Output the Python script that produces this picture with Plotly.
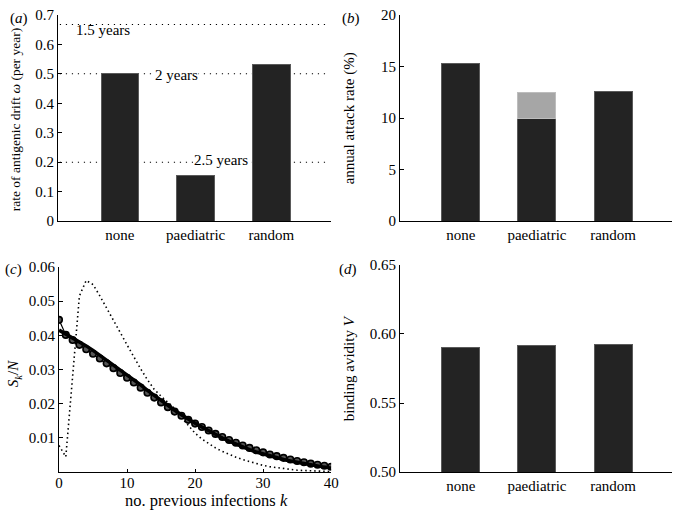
import plotly.graph_objects as go

W, H = 682, 519

# ---------------- data ----------------
categories = ["none", "paediatric", "random"]
cat_pos = [1, 2, 3]

drift_rate = [0.500, 0.155, 0.532]                 # panel (a)
drift_lines = [0.667, 0.5, 0.2]                    # dotted reference lines
drift_labels = ["1.5 years", "2 years", "2.5 years"]

attack_rate = [15.3, 10.0, 12.58]                  # panel (b) black
attack_extra_cat = ["paediatric"]
attack_extra = [2.5]                               # panel (b) grey on top

avidity = [0.5900, 0.5914, 0.5923]                 # panel (d)

k = list(range(41))                                # panel (c)
sk_model = [0.0415, 0.0404, 0.0393, 0.0381, 0.0369, 0.0356, 0.0342, 0.0328, 0.0314, 0.0300,
            0.0285, 0.0270, 0.0255, 0.0239, 0.0224, 0.0209, 0.0195, 0.0181, 0.0168, 0.0155,
            0.0143, 0.0132, 0.0121, 0.0110, 0.0100, 0.0091, 0.0082, 0.0074, 0.0066, 0.0059,
            0.0053, 0.0047, 0.0042, 0.0037, 0.0033, 0.0029, 0.0025, 0.0022, 0.0018, 0.0015,
            0.0012]
sk_sim = [0.0445, 0.0401, 0.0386, 0.0372, 0.0359, 0.0346, 0.0332, 0.0318, 0.0304, 0.0290,
          0.0276, 0.0262, 0.0247, 0.0232, 0.0218, 0.0204, 0.0190, 0.0177, 0.0165, 0.0153,
          0.0142, 0.0132, 0.0122, 0.0112, 0.0103, 0.0094, 0.0086, 0.0078, 0.0071, 0.0064,
          0.0058, 0.0052, 0.0047, 0.0042, 0.0037, 0.0033, 0.0029, 0.0025, 0.0022, 0.0019,
          0.0016]
sk_dotted = [0.0078, 0.0045, 0.0280, 0.0515, 0.0560, 0.0548, 0.0515, 0.0478, 0.0443, 0.0408,
             0.0372, 0.0336, 0.0302, 0.0270, 0.0242, 0.0222, 0.0204, 0.0186, 0.0160, 0.0136,
             0.0114, 0.0097, 0.0083, 0.0071, 0.0061, 0.0052, 0.0044, 0.0037, 0.0031, 0.0025,
             0.0020, 0.0016, 0.0013, 0.0010, 0.0008, 0.0006, 0.0005, 0.0004, 0.0003, 0.0003,
             0.0002]

# ---------------- style ----------------
FONT = "Liberation Serif"
FS_TICK = 15
FS_CAT = 15
BAR = "#232323"
BAR_EDGE = "#5a5a5a"
GREY = "#a6a6a6"


def px_x(p):
    return p / W


def px_y(p):
    return 1 - p / H


fig = go.Figure()

# (a)
fig.add_trace(go.Bar(x=cat_pos, y=drift_rate, width=0.5, marker=dict(color=BAR, line=dict(color=BAR_EDGE, width=1)),
                     xaxis="x", yaxis="y", showlegend=False))
# (b)
fig.add_trace(go.Bar(x=cat_pos, y=attack_rate, width=0.5, marker=dict(color=BAR, line=dict(color=BAR_EDGE, width=1)),
                     xaxis="x2", yaxis="y2", showlegend=False))
fig.add_trace(go.Bar(x=[cat_pos[categories.index(c)] for c in attack_extra_cat], y=attack_extra, width=0.5,
                     marker=dict(color=GREY, line=dict(color="#bdbdbd", width=1)),
                     xaxis="x2", yaxis="y2", showlegend=False))
# (c)
fig.add_trace(go.Scatter(x=k, y=sk_dotted, mode="lines", line=dict(color="black", width=1.6, dash="1.5px,3px"),
                         xaxis="x3", yaxis="y3", showlegend=False))
fig.add_trace(go.Scatter(x=k, y=sk_sim, mode="lines+markers", line=dict(color="black", width=1.2),
                         marker=dict(symbol="circle", size=6.5, color="#555555", line=dict(color="black", width=1.6)),
                         xaxis="x3", yaxis="y3", showlegend=False))
fig.add_trace(go.Scatter(x=k, y=sk_model, mode="lines", line=dict(color="black", width=3.5),
                         xaxis="x3", yaxis="y3", showlegend=False))
# (d)
fig.add_trace(go.Bar(x=cat_pos, y=avidity, width=0.5,
                     marker=dict(color=BAR, line=dict(color=BAR_EDGE, width=1)),
                     xaxis="x4", yaxis="y4", showlegend=False))

axis_common = dict(showline=True, linecolor="black", linewidth=1, showgrid=False, zeroline=False,
                   tickfont=dict(family=FONT, size=FS_TICK, color="black"), mirror=False)

cat_axis = dict(axis_common, tickmode="array", tickvals=cat_pos, ticktext=categories, ticks="",
                tickfont=dict(family=FONT, size=FS_CAT, color="black"))

fig.update_layout(
    width=W, height=H,
    margin=dict(l=0, r=0, t=0, b=0),
    paper_bgcolor="white", plot_bgcolor="white",
    barmode="stack",
    font=dict(family=FONT, size=FS_TICK, color="black"),
    xaxis=dict(cat_axis, domain=[px_x(55), px_x(333)], range=[0.182, 3.79], anchor="y"),
    yaxis=dict(axis_common, domain=[px_y(220), px_y(7)], range=[0, 0.7], tickvals=[0, 0.1, 0.2, 0.3, 0.4, 0.5, 0.6, 0.7],
               ticktext=["0", "0.1", "0.2", "0.3", "0.4", "0.5", "0.6", "0.7"],
               ticks="inside", ticklen=4, tickcolor="black", anchor="x"),
    xaxis2=dict(cat_axis, domain=[px_x(403), px_x(680)], range=[0.2, 3.774], anchor="y2"),
    yaxis2=dict(axis_common, domain=[px_y(220), px_y(7)], range=[0, 20], tickvals=[0, 5, 10, 15, 20],
                ticks="inside", ticklen=4, tickcolor="black", anchor="x2"),
    xaxis3=dict(axis_common, domain=[px_x(56), px_x(333)], range=[0, 40], tickvals=[0, 10, 20, 30, 40],
                ticks="inside", ticklen=3, tickcolor="black", anchor="y3", ticklabelstandoff=-3),
    yaxis3=dict(axis_common, domain=[px_y(479), px_y(267)], range=[0, 0.06],
                tickvals=[0.01, 0.02, 0.03, 0.04, 0.05, 0.06],
                ticktext=["0.01", "0.02", "0.03", "0.04", "0.05", "0.06"],
                ticks="inside", ticklen=4, tickcolor="black", anchor="x3"),
    xaxis4=dict(cat_axis, domain=[px_x(403), px_x(680)], range=[0.2, 3.774], anchor="y4"),
    yaxis4=dict(axis_common, domain=[px_y(479), px_y(265)], range=[0.5, 0.65],
                tickvals=[0.50, 0.55, 0.60, 0.65], ticktext=["0.50", "0.55", "0.60", "0.65"],
                ticks="inside", ticklen=4, tickcolor="black", anchor="x4"),
)

# dotted reference lines in (a)
for v in drift_lines:
    fig.add_shape(type="line", xref="x", yref="y", x0=0.206, x1=3.712, y0=v, y1=v, layer="below",
                  line=dict(color="black", width=1.2, dash="1.2px,4.8px"))

label_x = [0.40, 1.45, 1.97]
label_shift = [-5, -1, 2]
label_bg = ["rgba(0,0,0,0)", "white", "white"]
for txt, v, lx, sh, bg in zip(drift_labels, drift_lines, label_x, label_shift, label_bg):
    fig.add_annotation(x=lx, y=v, xref="x", yref="y", text=txt, showarrow=False, xanchor="left", yanchor="middle",
                       yshift=sh, font=dict(family=FONT, size=FS_CAT, color="black"),
                       bgcolor=bg, borderpad=0)

# axis titles as annotations
titles = [
    ("rate of antigenic drift <i>ω</i> (per year)", 12, 115, -90, 13.5),
    ("annual attack rate (%)", 352, 114, -90, FS_CAT),
    ("<i>S<sub>k</sub></i>/<i>N</i>", 11, 377, -90, FS_CAT),
    ("binding avidity <i>V</i>", 351, 372, -90, FS_CAT),
    ("no. previous infections <i>k</i>", 206, 508, 0, 16.5),
]
for txt, x, y, ang, fs in titles:
    fig.add_annotation(x=px_x(x), y=px_y(y), xref="paper", yref="paper", text=txt, showarrow=False,
                       textangle=ang, xanchor="center", yanchor="middle",
                       font=dict(family=FONT, size=fs, color="black"))

# panel letters
panels = [("(<i>a</i>)", 15, 11), ("(<i>b</i>)", 353, 11), ("(<i>c</i>)", 10, 270), ("(<i>d</i>)", 350, 270)]
for txt, x, y in panels:
    fig.add_annotation(x=px_x(x), y=px_y(y), xref="paper", yref="paper", text=txt, showarrow=False,
                       xanchor="center", yanchor="middle", font=dict(family=FONT, size=FS_CAT, color="black"))

fig.write_html("out.html", config={"displayModeBar": False},
               post_script="document.body.style.margin='0';document.body.style.padding='0';")
